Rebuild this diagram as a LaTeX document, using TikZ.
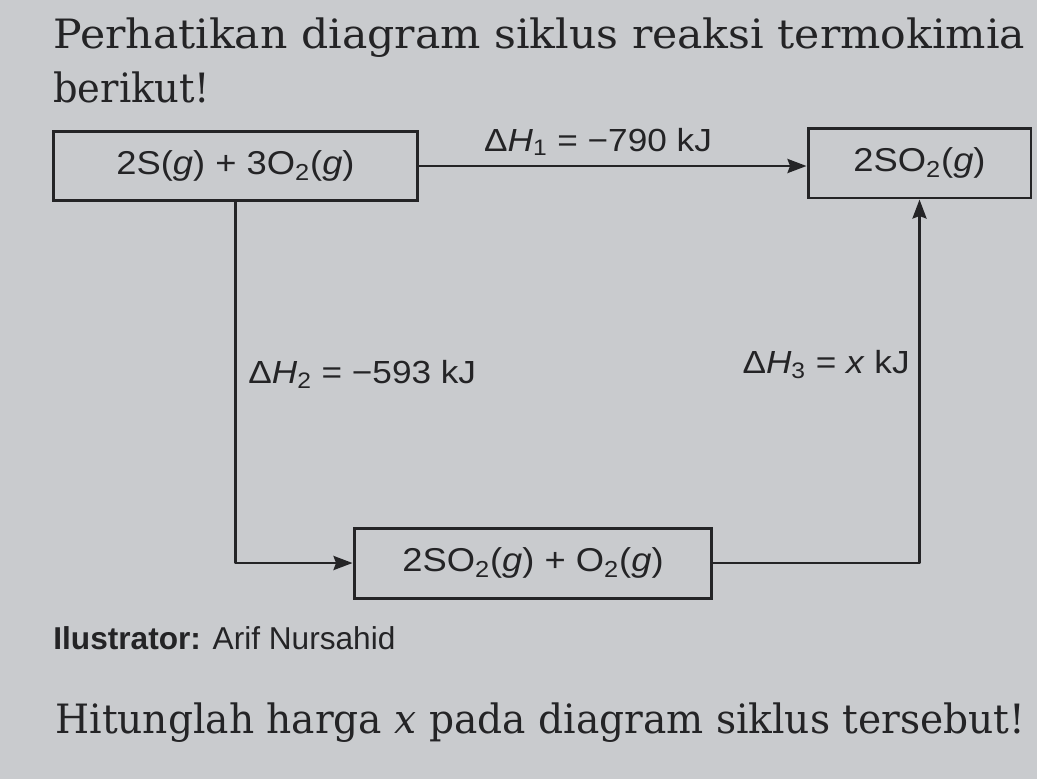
\documentclass[tikz,border=0pt]{standalone}
\usepackage{fontspec}
\usepackage{graphicx}
\usetikzlibrary{arrows.meta}
\newfontfamily\bookserif{DejaVu Serif}
\newfontfamily\diagsans[FakeStretch=1.1]{Liberation Sans}
\newfontfamily\creditsans{Liberation Sans}
\definecolor{papergray}{RGB}{201,203,206}
\definecolor{inkgray}{RGB}{36,36,38}
\newcommand{\dH}[1]{\char"0394\textit{H}\textsubscript{#1}}
\newcommand{\sub}[1]{\textsubscript{#1}}
\newcommand{\bookline}[2]{\resizebox{#1}{\height}{#2}}
\tikzset{
  statebox/.style={draw=inkgray, line width=1.7pt, inner sep=0pt, text=inkgray,
    font=\diagsans\fontsize{18.8}{21}\selectfont},
  dhlabel/.style={inner sep=0pt, text=inkgray, font=\diagsans\fontsize{18.2}{21}\selectfont},
  booktext/.style={inner sep=0pt, anchor=base west, text=inkgray,
    font=\bookserif\fontsize{23}{27}\selectfont},
  cycle/.style={draw=inkgray, line width=1.6pt, line join=round},
  >={Stealth[length=0.38cm,width=0.28cm,inset=0.05cm]}
}
\begin{document}
\begin{tikzpicture}[x=0.02cm, y=-0.02cm]
\useasboundingbox (0,0) rectangle (1037,779);
\fill[papergray] (0,0) rectangle (1037,779);
\node[booktext] (soal1) at (53,48) {\bookline{19.44cm}{Perhatikan diagram siklus reaksi termokimia}};
\node[booktext] (soal2) at (53,102) {\bookline{3.14cm}{berikut!}};
\node[statebox, minimum width=7.3cm, minimum height=1.38cm] (reak) at (235.5,166) {2S(\textit{g}) + 3O\sub{2}(\textit{g})};
\node[statebox, minimum width=4.46cm, minimum height=1.4cm] (prod) at (919.5,163) {2SO\sub{2}(\textit{g})};
\node[statebox, minimum width=7.16cm, minimum height=1.4cm] (antara) at (533,563) {2SO\sub{2}(\textit{g}) + O\sub{2}(\textit{g})};
\draw[cycle, ->] (reak.east) -- (reak.east -| prod.west);
\draw[cycle, ->] (reak.south) |- (antara.west);
\draw[cycle, ->] (antara.east) -| (prod.south);
\node[dhlabel, anchor=base] (dh1) at (598,151) {\dH{1} = −790 kJ};
\node[dhlabel, anchor=base west] (dh2) at (248,383) {\dH{2} = −593 kJ};
\node[dhlabel, anchor=base east] (dh3) at (910,373) {\dH{3} = \textit{x} kJ};
\node[dhlabel, anchor=base west, font=\creditsans\fontsize{18}{21}\selectfont] (ilus) at (53,649) {\textbf{Ilustrator:} Arif Nursahid};
\node[booktext] (soal3) at (55,733) {\bookline{19.4cm}{Hitunglah harga \textit{x} pada diagram siklus tersebut!}};
\end{tikzpicture}
\end{document}
